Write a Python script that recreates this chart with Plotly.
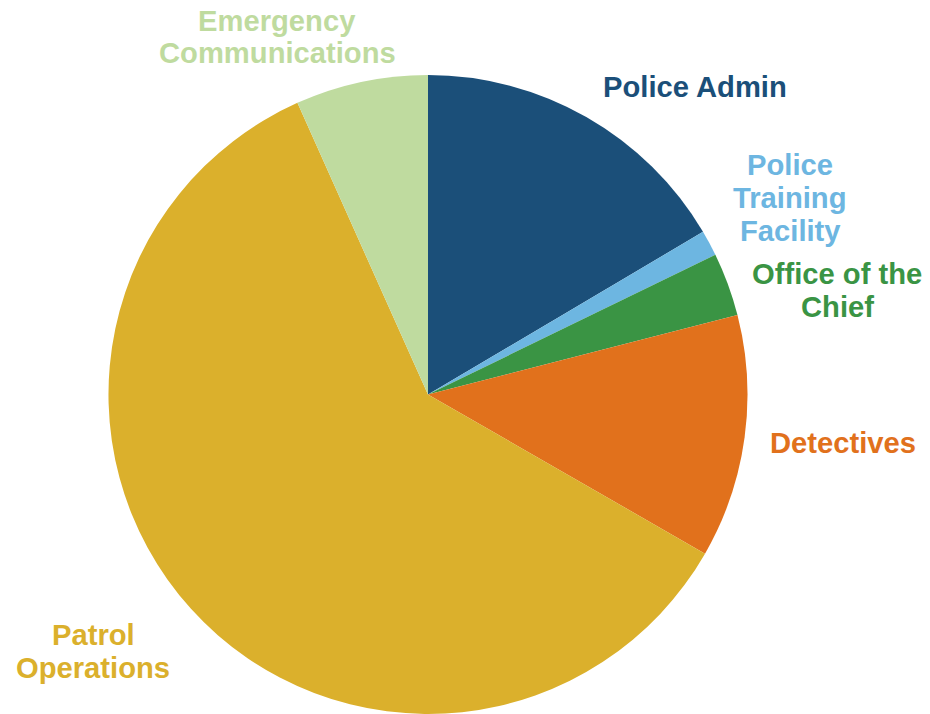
import plotly.graph_objects as go

# Budget share by division (percent)
divisions = ["Police Admin", "Police Training Facility", "Office of the Chief",
             "Detectives", "Patrol Operations", "Emergency Communications"]
shares = [16.5, 1.3, 3.2, 12.3, 60.0, 6.7]
colors = ["#1B4F79", "#6DB6E1", "#3A9444", "#E1711C", "#DBB02C", "#BFDB9F"]

# Label text split into lines, with the centre of each label block (pixels)
label_lines = [["Police Admin"], ["Police", "Training", "Facility"],
               ["Office of the", "Chief"], ["Detectives"],
               ["Patrol", "Operations"], ["Emergency", "Communications"]]
label_centers = [(695, 87), (790, 198), (837, 290), (843, 443), (93, 651), (277, 37)]

W, H = 930, 714
LINE = 33

fig = go.Figure(go.Pie(
    labels=divisions, values=shares, sort=False, direction="clockwise",
    rotation=0, marker=dict(colors=colors, line=dict(width=0)),
    textinfo="none", hoverinfo="label+percent",
    domain=dict(x=[0.1161, 0.8043], y=[0.0, 0.895]),
))

annotations = []
for lines, (cx, cy), col in zip(label_lines, label_centers, colors):
    n = len(lines)
    for i, txt in enumerate(lines):
        py = cy + (i - (n - 1) / 2) * LINE
        annotations.append(dict(
            text=f"<b>{txt}</b>", x=cx / W, y=1 - py / H, xref="paper", yref="paper",
            xanchor="center", yanchor="middle", showarrow=False,
            font=dict(family="Liberation Sans, Arial, sans-serif", size=29.2, color=col),
        ))

fig.update_layout(
    width=W, height=H, margin=dict(l=0, r=0, t=0, b=0),
    paper_bgcolor="white", plot_bgcolor="white", showlegend=False,
    annotations=annotations,
)

fig.write_html("out.html")
